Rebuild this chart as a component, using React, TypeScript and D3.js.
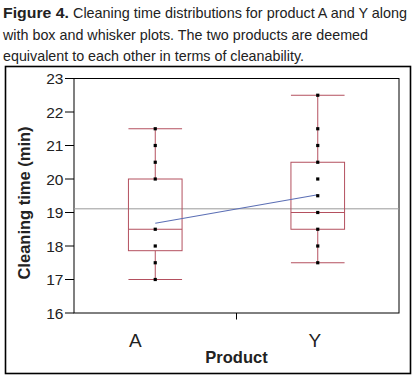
import React from "react";
import * as d3 from "d3";

const categories = ["A", "Y"];
const pointsA = [17, 17.5, 18, 18.5, 20, 20.5, 21, 21.5];
const pointsY = [17.5, 18, 18.5, 19, 19.5, 20, 20.5, 21, 21.5, 22.5];
const boxMin = [17, 17.5];
const boxQ1 = [17.86, 18.5];
const boxMedian = [18.5, 19];
const boxQ3 = [20, 20.5];
const boxMax = [21.5, 22.5];
const means = [18.68, 19.53];
const grandMean = 19.11;
const yTicks = [16, 17, 18, 19, 20, 21, 22, 23];
const labelOffsets = [-20, -3];

export default function App() {
  const W = 416, H = 377;
  const left = 74, right = 399, top = 78.5, bottom = 313;
  const x = d3.scaleBand<string>().domain(categories).range([left, right]).padding(0);
  const y = d3.scaleLinear().domain([16, 23]).range([bottom, top]);
  const cx = (c: string) => (x(c) as number) + x.bandwidth() / 2;
  const boxW = x.bandwidth() * 0.33;
  const pts = [pointsA, pointsY];
  const boxColor = "#b4505f";
  const meanLine = d3.line<[number, number]>()(categories.map((c, i) => [cx(c), y(means[i])]));
  const font = "'Liberation Sans', Arial, sans-serif";

  return (
    <svg width={W} height={H} style={{ position: "absolute", left: 0, top: 0, background: "#fff" }}>
      <rect x={0} y={0} width={W} height={H} fill="#fff" />
      {/* caption */}
      <g fontFamily={font} fill="#222">
        <text x={3} y={18.3} fontSize={15} fontWeight={900} textLength={66} lengthAdjust="spacingAndGlyphs">Figure 4.</text>
        <text x={73} y={18.3} fontSize={15} textLength={334} lengthAdjust="spacingAndGlyphs">Cleaning time distributions for product A and Y along</text>
        <text x={3} y={39.5} fontSize={15} textLength={365} lengthAdjust="spacingAndGlyphs">with box and whisker plots. The two products are deemed</text>
        <text x={3} y={61} fontSize={15} textLength={301} lengthAdjust="spacingAndGlyphs">equivalent to each other in terms of cleanability.</text>
      </g>
      {/* outer frame */}
      <rect x={5.5} y={66.5} width={405} height={307} fill="none" stroke="#000" strokeWidth={1.6} />
      {/* plot frame */}
      <rect x={left} y={top} width={right - left} height={bottom - top} fill="none" stroke="#000" strokeWidth={1} />
      {/* y ticks */}
      {yTicks.map((t) => (
        <g key={t}>
          <line x1={65} x2={left} y1={y(t)} y2={y(t)} stroke="#000" strokeWidth={1} />
          <text x={63.5} y={y(t)} dy="0.36em" textAnchor="end" fontFamily={font} fontSize={15.5} fill="#222">{t}</text>
        </g>
      ))}
      {/* x divider tick */}
      <line x1={x("Y") as number} x2={x("Y") as number} y1={bottom} y2={bottom + 6.5} stroke="#000" strokeWidth={1} />
      {categories.map((c, i) => (
        <text key={c} x={cx(c) + labelOffsets[i]} y={347} textAnchor="middle" fontFamily={font} fontSize={19} fill="#222">{c}</text>
      ))}
      <text x={236.5} y={363} textAnchor="middle" fontFamily={font} fontSize={16.5} fontWeight="bold" fill="#222">Product</text>
      <text transform="translate(30,203) rotate(-90)" textAnchor="middle" fontFamily={font} fontSize={16.5} fontWeight="bold" fill="#222">Cleaning time (min)</text>
      {/* grand mean line */}
      <line x1={left} x2={right} y1={y(grandMean)} y2={y(grandMean)} stroke="#9a9a9a" strokeWidth={1} />
      {/* boxes */}
      {categories.map((c, i) => {
        const m = cx(c);
        return (
          <g key={c} stroke={boxColor} strokeWidth={1} fill="none">
            <line x1={m} x2={m} y1={y(boxMin[i])} y2={y(boxQ1[i])} />
            <line x1={m} x2={m} y1={y(boxQ3[i])} y2={y(boxMax[i])} />
            <line x1={m - boxW / 2} x2={m + boxW / 2} y1={y(boxMin[i])} y2={y(boxMin[i])} />
            <line x1={m - boxW / 2} x2={m + boxW / 2} y1={y(boxMax[i])} y2={y(boxMax[i])} />
            <rect x={m - boxW / 2} y={y(boxQ3[i])} width={boxW} height={y(boxQ1[i]) - y(boxQ3[i])} />
            <line x1={m - boxW / 2} x2={m + boxW / 2} y1={y(boxMedian[i])} y2={y(boxMedian[i])} />
          </g>
        );
      })}
      {/* mean connect line */}
      <path d={meanLine ?? ""} fill="none" stroke="#5b6fb5" strokeWidth={1.2} />
      {/* points */}
      {categories.map((c, i) =>
        pts[i].map((v, j) => (
          <rect key={c + j} x={cx(c) - 1.6} y={y(v) - 1.6} width={3.2} height={3.2} fill="#000" />
        ))
      )}
    </svg>
  );
}
